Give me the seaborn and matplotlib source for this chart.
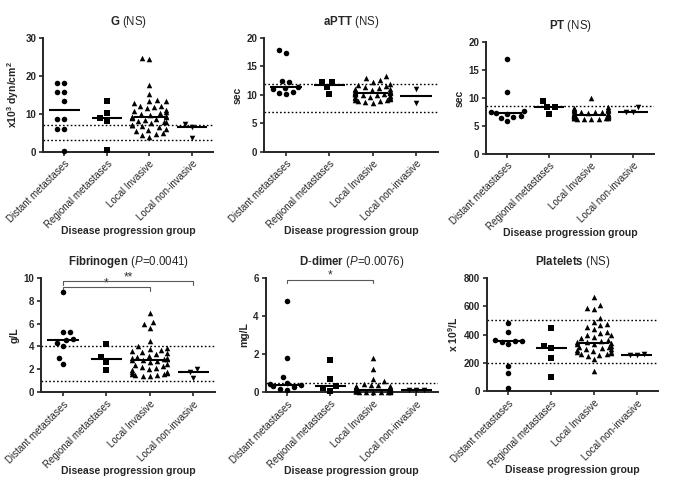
import numpy as np
import pandas as pd
import matplotlib
matplotlib.use("Agg")
import matplotlib.pyplot as plt
import seaborn as sns

groups = ["Distant metastases", "Regional metastases", "Local Invasive", "Local non-invasive"]
markers = ["o", "s", "^", "v"]

# ---- G (x10^3 dyn/cm^2)
g_distant = [18.2, 18.2, 15.8, 15.8, 13.5, 8.8, 8.8, 6.0, 6.0, 0.3]
g_regional = [13.5, 10.3, 8.9, 8.1, 0.6]
g_local = [24.8, 24.5, 17.6, 15.2, 13.6, 13.4, 13.3, 12.8, 12.2, 12.0, 11.8, 11.5, 11.0, 10.8,
           10.5, 10.3, 10.0, 9.8, 9.5, 9.3, 9.2, 9.1, 9.0, 8.8, 8.5, 8.2, 8.0, 7.8, 7.5, 7.2,
           7.0, 6.8, 6.5, 6.0, 5.8, 5.5, 5.0, 4.8, 4.5, 4.0]
g_noninv = [7.3, 6.5, 3.7]
g_ref = [7.2, 3.2]

# ---- aPTT (sec)
aptt_distant = [17.8, 17.4, 12.4, 12.3, 11.4, 11.3, 11.0, 10.6, 10.4, 10.1]
aptt_regional = [12.2, 12.2, 11.35, 10.2]
aptt_local = [13.3, 12.9, 12.6, 12.3, 12.0, 11.8, 11.6, 11.4, 11.2, 11.1, 11.0, 10.9, 10.8, 10.7,
              10.6, 10.6, 10.5, 10.5, 10.5, 10.4, 10.4, 10.3, 10.2, 10.2, 10.1, 10.0, 10.0, 9.9,
              9.8, 9.7, 9.6, 9.5, 9.4, 9.3, 9.2, 9.1, 9.0, 8.9, 8.7, 8.6]
aptt_noninv = [11.1, 8.6]
aptt_ref = [12.0, 7.0]

# ---- PT (sec)
pt_distant = [16.9, 11.1, 7.6, 7.4, 7.3, 7.2, 6.8, 6.6, 6.4, 5.9]
pt_regional = [9.4, 8.4, 8.4, 7.2]
pt_local = [9.9, 8.3, 8.2, 8.1, 8.0, 7.9, 7.8, 7.7, 7.6, 7.5, 7.4, 7.4, 7.3, 7.3, 7.2, 7.2, 7.1,
            7.1, 7.1, 7.0, 7.0, 7.0, 6.9, 6.9, 6.9, 6.8, 6.8, 6.8, 6.7, 6.7, 6.6, 6.6, 6.5, 6.5,
            6.4, 6.4, 6.3, 6.3, 6.2, 6.2]
pt_noninv = [8.3, 7.5, 7.4]
pt_ref = [8.5]

# ---- Fibrinogen (g/L)
fib_distant = [8.8, 5.3, 5.25, 4.65, 4.55, 4.3, 4.0, 3.0, 2.5]
fib_regional = [4.2, 3.1, 2.65, 1.9]
fib_local = [6.9, 6.15, 6.0, 5.6, 4.5, 4.0, 3.9, 3.8, 3.7, 3.6, 3.5, 3.4, 3.3, 3.2, 3.1, 3.0, 3.0,
             2.9, 2.9, 2.85, 2.8, 2.7, 2.6, 2.5, 2.4, 2.3, 2.2, 2.1, 2.0, 1.9, 1.8, 1.8, 1.7, 1.6,
             1.6, 1.5, 1.5, 1.4, 1.4]
fib_noninv = [2.05, 1.8, 1.25]
fib_ref = [4.0, 1.0]

# ---- D-dimer (mg/L)
dd_distant = [4.8, 1.8, 0.8, 0.5, 0.42, 0.35, 0.3, 0.25, 0.15, 0.1]
dd_regional = [1.7, 0.67, 0.32, 0.2, 0.08]
dd_local = [1.8, 1.2, 0.7, 0.6, 0.45, 0.4, 0.35, 0.3, 0.3, 0.25, 0.25, 0.2, 0.2, 0.2, 0.18, 0.15,
            0.15, 0.15, 0.12, 0.12, 0.12, 0.1, 0.1, 0.1, 0.1, 0.08, 0.08, 0.08, 0.06, 0.06, 0.05,
            0.05, 0.05, 0.04, 0.03, 0.03, 0.02, 0.02, 0.01, 0.0]
dd_noninv = [0.12, 0.1, 0.1]
dd_ref = [0.5]

# ---- Platelets (x10^9/L)
plt_distant = [482, 419, 365, 358, 354, 350, 332, 179, 125, 24]
plt_regional = [447, 320, 306, 235, 99]
plt_local = [668, 612, 590, 584, 515, 490, 478, 465, 455, 440, 420, 410, 400, 395, 385, 375, 365,
             355, 350, 345, 340, 335, 330, 320, 315, 310, 305, 300, 295, 290, 285, 280, 275, 270,
             265, 262, 258, 250, 225, 142]
plt_noninv = [266, 258, 254]
plt_ref = [500, 200]

sns.set_style("ticks")
plt.rcParams["font.family"] = ["Liberation Sans", "DejaVu Sans"]
plt.rcParams["mathtext.fontset"] = "custom"
plt.rcParams["mathtext.rm"] = "Liberation Sans"
plt.rcParams["mathtext.bf"] = "Liberation Sans:bold"
plt.rcParams["mathtext.it"] = "Liberation Sans:italic"
plt.rcParams["mathtext.sf"] = "Liberation Sans"

fig = plt.figure(figsize=(6.85, 4.92), dpi=100)

panels = [
    dict(data=[g_distant, g_regional, g_local, g_noninv], ref=g_ref,
         title=r"$\mathbf{G}$ (NS)", ylabel=r"$\mathbf{x10^3\ dyn/cm^2}$",
         ylim=(0, 30), yticks=[0, 10, 20, 30], pos=[0.063, 0.691, 0.248, 0.232]),
    dict(data=[aptt_distant, aptt_regional, aptt_local, aptt_noninv], ref=aptt_ref,
         title=r"$\mathbf{aPTT}$ (NS)", ylabel="sec",
         ylim=(0, 20), yticks=[0, 5, 10, 15, 20], pos=[0.386, 0.691, 0.253, 0.232]),
    dict(data=[pt_distant, pt_regional, pt_local, pt_noninv], ref=pt_ref,
         title=r"$\mathbf{PT}$ (NS)", ylabel="sec",
         ylim=(0, 20), yticks=[0, 5, 10, 15, 20], pos=[0.710, 0.687, 0.245, 0.228]),
    dict(data=[fib_distant, fib_regional, fib_local, fib_noninv], ref=fib_ref,
         title=r"$\mathbf{Fibrinogen}$ ($\mathit{P}$=0.0041)", ylabel="g/L",
         ylim=(0, 10), yticks=[0, 2, 4, 6, 8, 10], pos=[0.060, 0.203, 0.254, 0.232],
         brackets=[(0, 2, 9.2, "*"), (0, 3, 9.7, "**")]),
    dict(data=[dd_distant, dd_regional, dd_local, dd_noninv], ref=dd_ref,
         title=r"$\mathbf{D}$-$\mathbf{dimer}$ ($\mathit{P}$=0.0076)", ylabel="mg/L",
         ylim=(0, 6), yticks=[0, 2, 4, 6], pos=[0.388, 0.203, 0.251, 0.232],
         brackets=[(0, 2, 5.9, "*")]),
    dict(data=[plt_distant, plt_regional, plt_local, plt_noninv], ref=plt_ref,
         title=r"$\mathbf{Platelets}$ (NS)", ylabel=r"$\mathbf{x\ 10^9/L}$",
         ylim=(0, 800), yticks=[0, 200, 400, 600, 800], pos=[0.711, 0.205, 0.250, 0.230]),
]

axes = []
for p in panels:
    ax = fig.add_axes(p["pos"])
    axes.append(ax)
    rows = []
    for g, vals in zip(groups, p["data"]):
        for v in vals:
            rows.append((g, v))
    df = pd.DataFrame(rows, columns=["group", "value"])
    for g, m in zip(groups, markers):
        sub = df[df["group"] == g]
        sns.swarmplot(data=sub, x="group", y="value", order=groups, marker=m,
                      color="black", size=5.0, ax=ax, clip_on=False, zorder=4,
                      warn_thresh=1.0)
    for i, vals in enumerate(p["data"]):
        ax.hlines(np.median(vals), i - 0.36, i + 0.36, color="black", lw=1.5, zorder=5)
    for r in p["ref"]:
        ax.axhline(r, color="black", lw=1.0, ls=(0, (1.2, 1.6)), zorder=1)
    ax.set_xlim(-0.5, 3.5)
    ax.set_ylim(*p["ylim"])
    ax.set_yticks(p["yticks"])
    ax.set_xticks(range(4))
    ax.set_xticklabels(groups, rotation=45, ha="right", rotation_mode="anchor", fontsize=7)
    for t in ax.get_yticklabels():
        t.set_fontweight("bold")
        t.set_fontsize(7)
    ax.set_xlabel("Disease progression group", fontsize=7.5, fontweight="bold", labelpad=-3)
    ax.set_ylabel(p["ylabel"], fontsize=7.5, fontweight="bold", labelpad=3)
    ax.set_title(p["title"], fontsize=8.3, pad=9)
    sns.despine(ax=ax)
    for s in ["left", "bottom"]:
        ax.spines[s].set_linewidth(1.4)
    ax.tick_params(axis="both", length=3, width=1.2, pad=2)
    ax.grid(False)
    for (a, b, y, lab) in p.get("brackets", []):
        h = (p["ylim"][1] - p["ylim"][0]) * 0.03
        ax.plot([a, a, b, b], [y - h, y, y, y - h], color="0.35", lw=0.8, clip_on=False, zorder=3)
        ax.text((a + b) / 2, y - h * 0.6, lab, ha="center", va="bottom", fontsize=8.5, color="0.2")

# lay out the swarms with the larger spacing, then draw slightly smaller markers
fig.canvas.draw()
for ax in axes:
    for coll in ax.collections:
        if "draw" in coll.__dict__:
            del coll.__dict__["draw"]
            coll.set_sizes([4.0 ** 2])

fig.savefig("out.png", dpi=100)
